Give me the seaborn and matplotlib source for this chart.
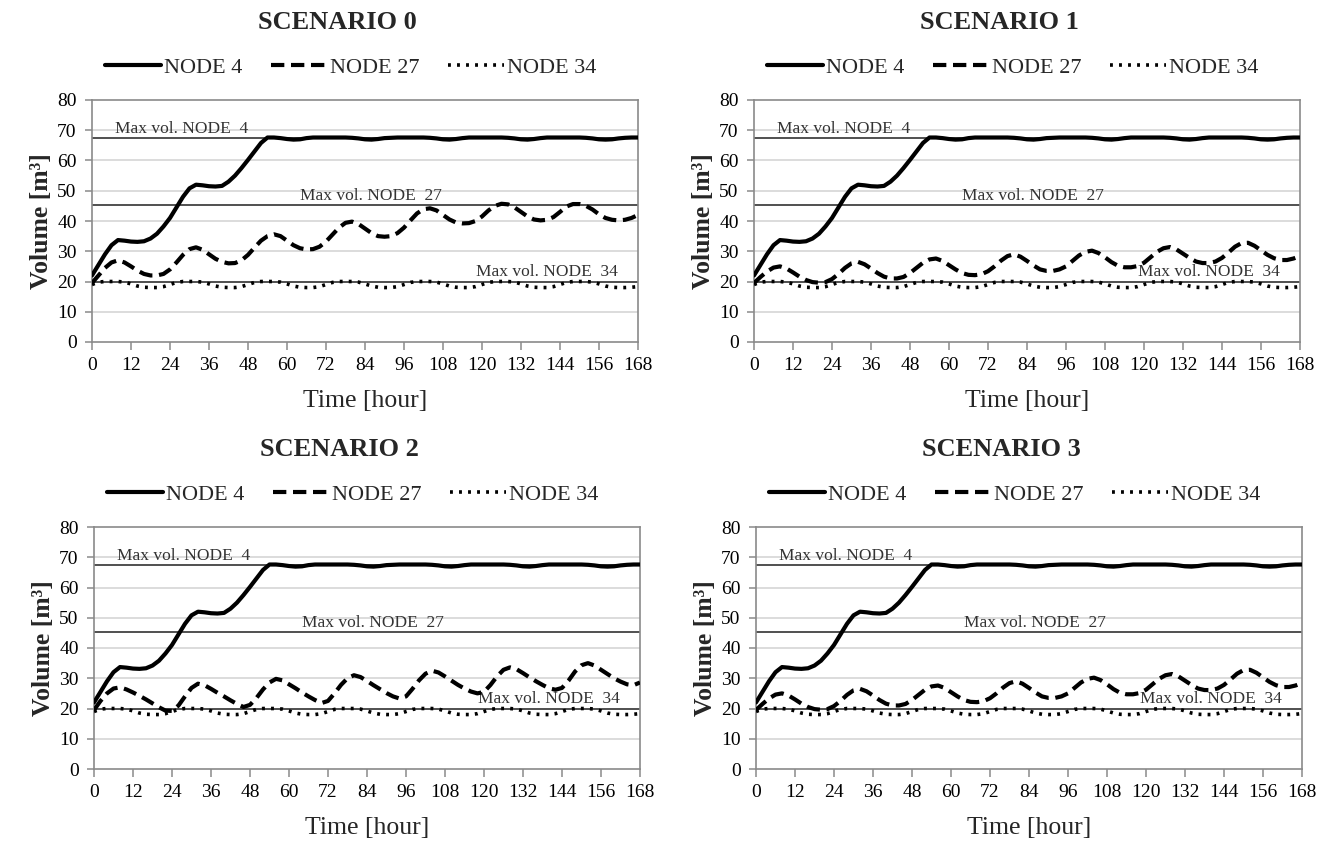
import numpy as np
import pandas as pd
import matplotlib
matplotlib.use("Agg")
import matplotlib.pyplot as plt
import seaborn as sns

# ---------------- data ----------------
hours = list(range(0, 169, 2))

node4 = [22.0, 25.5, 29.0, 32.0, 33.7, 33.5, 33.2, 33.1, 33.3, 34.2,
         35.8, 38.2, 41.0, 44.5, 48.0, 50.8, 52.0, 51.8, 51.5, 51.4,
         51.6, 53.0, 55.0, 57.5, 60.2, 63.0, 65.8, 67.6, 67.6, 67.4,
         67.1, 66.9, 67.0, 67.4, 67.6, 67.6, 67.6, 67.6, 67.6, 67.6,
         67.5, 67.3, 67.0, 66.9, 67.1, 67.4, 67.5, 67.6, 67.6, 67.6,
         67.6, 67.6, 67.5, 67.3, 67.0, 66.9, 67.1, 67.4, 67.6, 67.6,
         67.6, 67.6, 67.6, 67.6, 67.5, 67.3, 67.0, 66.9, 67.1, 67.4,
         67.6, 67.6, 67.6, 67.6, 67.6, 67.6, 67.5, 67.3, 67.0, 66.9,
         67.0, 67.3, 67.5, 67.6, 67.6]

node34 = [19.0, 19.8, 20.0, 20.0, 20.0, 19.8, 19.2, 18.5, 18.1, 18.0,
          18.0, 18.3, 19.0, 19.7, 20.0, 20.0, 20.0, 19.8, 19.2, 18.5,
          18.1, 18.0, 18.0, 18.3, 19.0, 19.7, 20.0, 20.0, 20.0, 19.8,
          19.2, 18.5, 18.1, 18.0, 18.0, 18.3, 19.0, 19.7, 20.0, 20.0,
          20.0, 19.8, 19.2, 18.5, 18.1, 18.0, 18.0, 18.3, 19.0, 19.7,
          20.0, 20.0, 20.0, 19.8, 19.2, 18.5, 18.1, 18.0, 18.0, 18.3,
          19.0, 19.7, 20.0, 20.0, 20.0, 19.8, 19.2, 18.5, 18.1, 18.0,
          18.0, 18.3, 19.0, 19.7, 20.0, 20.0, 20.0, 19.8, 19.2, 18.5,
          18.1, 18.0, 18.0, 18.1, 18.3]

node27_s0 = [19.5, 22.0, 24.5, 26.3, 27.0, 26.3, 25.0, 23.6, 22.5, 22.0,
             22.0, 22.5, 24.0, 26.3, 28.8, 30.7, 31.3, 30.5, 29.0, 27.5,
             26.5, 26.0, 26.1, 27.0, 28.8, 31.2, 33.5, 35.0, 35.6, 35.0,
             33.5, 32.0, 31.0, 30.6, 30.7, 31.5, 33.2, 35.5, 37.8, 39.4,
             39.8, 39.0, 37.5, 36.0, 35.0, 34.8, 35.0, 36.0, 37.8, 40.2,
             42.5, 43.9, 44.2, 43.5, 42.0, 40.5, 39.5, 39.2, 39.3, 40.0,
             41.5, 43.5, 45.0, 45.7, 45.5, 44.5, 43.0, 41.5, 40.5, 40.2,
             40.4, 41.3, 43.0, 44.8, 45.6, 45.6, 45.0, 43.8, 42.2, 41.0,
             40.4, 40.2, 40.4, 41.0, 42.0]

node27_s1 = [19.5, 21.5, 23.3, 24.6, 25.0, 24.3, 23.0, 21.6, 20.5, 19.8,
             19.6, 19.8, 20.8, 22.5, 24.5, 26.0, 26.5, 25.7, 24.3, 22.8,
             21.6, 21.0, 21.0, 21.5, 22.8, 24.5, 26.2, 27.3, 27.6, 26.8,
             25.4, 24.0, 22.8, 22.2, 22.1, 22.4, 23.4, 25.0, 26.9, 28.4,
             29.0, 28.2, 26.8, 25.3, 24.0, 23.5, 23.5, 24.0, 25.0, 26.8,
             28.6, 29.8, 30.2, 29.4, 28.0, 26.4, 25.2, 24.7, 24.7, 25.1,
             26.2, 28.0, 29.8, 31.0, 31.4, 30.6, 29.2, 27.8, 26.6, 26.1,
             26.1, 26.6, 27.8, 29.6, 31.5, 32.7, 32.8, 31.8, 30.3, 28.8,
             27.7, 27.1, 27.1, 27.6, 28.4]

node27_s2 = [19.5, 22.5, 25.0, 26.6, 27.0, 26.3, 25.3, 24.2, 23.0, 21.7,
             20.4, 19.3, 19.2, 21.0, 24.0, 26.8, 28.2, 27.7, 26.5, 25.2,
             24.0, 22.7, 21.5, 20.5, 21.2, 23.5, 26.3, 28.6, 29.8, 29.3,
             28.0, 26.7, 25.3, 24.0, 22.8, 21.8, 22.5, 25.0, 27.8, 30.0,
             31.0, 30.4, 29.1, 27.7, 26.4, 25.1, 24.0, 23.3, 24.0, 26.5,
             29.3, 31.5, 32.5, 31.9, 30.6, 29.2, 27.8, 26.6, 25.6, 25.0,
             25.5, 27.8, 30.6, 32.8, 33.6, 33.0, 31.7, 30.3, 29.0, 27.8,
             26.7, 26.2, 26.8, 29.2, 32.2, 34.3, 35.0, 34.2, 32.8, 31.4,
             30.0, 28.9, 28.0, 27.7, 28.6]

node27_s3 = list(node27_s1)

scenario_titles = ["SCENARIO 0", "SCENARIO 1", "SCENARIO 2", "SCENARIO 3"]
node27_all = [node27_s0, node27_s1, node27_s2, node27_s3]
series_labels = ["NODE 4", "NODE 27", "NODE 34"]
max_vols = [67.5, 45.3, 20.0]
max_labels = ["Max vol. NODE  4", "Max vol. NODE  27", "Max vol. NODE  34"]
max_label_x = [7.0, 64.0, 118.0]
x_ticks = list(range(0, 169, 12))
y_ticks = list(range(0, 81, 10))

# ---------------- style ----------------
sns.set_theme(style="white")
plt.rcParams["font.family"] = ["Liberation Serif", "DejaVu Serif"]

fig = plt.figure(figsize=(13.24, 8.42), dpi=100)
W, H = 1324, 842
axes_px = [(92, 100), (754, 100), (94, 527), (756, 527)]  # (left, top) in px
aw, ah = 546, 242

styles = [
    dict(color="black", lw=3.0, linestyle="-"),
    dict(color="black", lw=3.0, linestyle=(0, (3.2, 1.6))),
    dict(color="black", lw=2.6, linestyle=(0, (0.8, 1.7))),
]

for i, (lx, ty) in enumerate(axes_px):
    ax = fig.add_axes([lx / W, 1 - (ty + ah) / H, aw / W, ah / H])
    df = pd.DataFrame({"t": hours, "NODE 4": node4,
                       "NODE 27": node27_all[i], "NODE 34": node34})
    # grid & max lines
    for yv in y_ticks[1:-1]:
        ax.axhline(yv, color="#d6d6d6", lw=1.2, zorder=0)
    for mv, ml, mx in zip(max_vols, max_labels, max_label_x):
        ax.axhline(mv, color="#505050", lw=1.4, zorder=1)
        ax.text(mx, mv + 0.4, ml, fontsize=12.5, color="#333333",
                ha="left", va="bottom", zorder=2)
    for lab, st in zip(series_labels, styles):
        sns.lineplot(data=df, x="t", y=lab, ax=ax, label=lab, zorder=3,
                     solid_capstyle="round", dash_capstyle="butt", **st)

    ax.set_xlim(0, 168)
    ax.set_ylim(0, 80)
    ax.set_xticks(x_ticks)
    ax.set_yticks(y_ticks)
    ax.tick_params(axis="both", labelsize=14, colors="#8a8a8a",
                   labelcolor="black", direction="out", length=5, width=1.1,
                   pad=6, bottom=True, left=True)
    ax.tick_params(axis="x", length=6, pad=5)
    for sp in ax.spines.values():
        sp.set_color("#8a8a8a")
        sp.set_linewidth(1.2)
    ax.set_xlabel("Time [hour]", fontsize=18.5, labelpad=11)
    ax.set_ylabel("Volume [m³]", fontsize=18.5, fontweight="bold", labelpad=3)
    ax.grid(False)

    leg = ax.legend(loc="center", bbox_to_anchor=(0.474, 1.135), ncol=3,
                    frameon=False, fontsize=16, handlelength=2.5,
                    handletextpad=0.15, columnspacing=1.3, borderaxespad=0)
    ax.set_title(scenario_titles[i], fontsize=19, fontweight="bold",
                 x=0.45, y=1.26)

fig.savefig("out.png", dpi=100)
